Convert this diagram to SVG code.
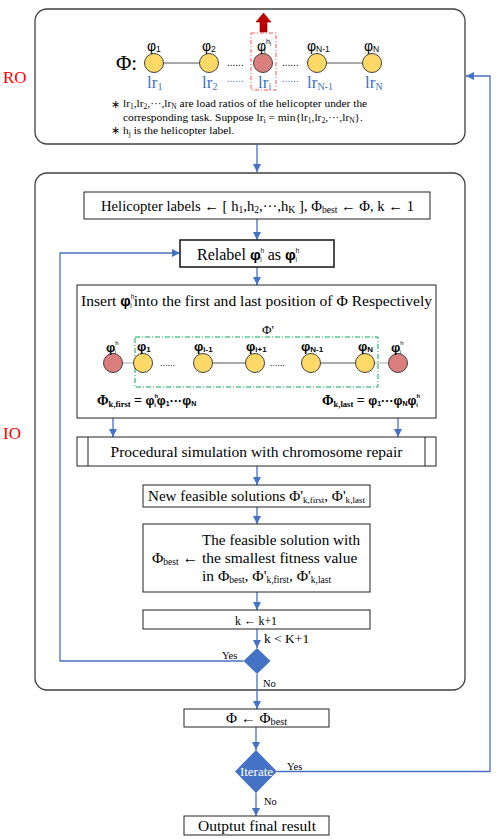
<svg xmlns="http://www.w3.org/2000/svg" width="496" height="839" viewBox="0 0 496 839">
<defs>
<marker id="arr" markerUnits="userSpaceOnUse" markerWidth="9" markerHeight="8" refX="8" refY="4" orient="auto">
<path d="M0,0 L8,4 L0,8 z" fill="#4472C4"/>
</marker>
<style>
.frame{fill:#fff;stroke:#404040;stroke-width:1.3}
.box{fill:#fff;stroke:#222;stroke-width:1}
.t{font-family:"Liberation Serif","Times New Roman",serif;fill:#000}
.s{font-family:"Liberation Sans",Arial,sans-serif;fill:#000}
.cm{stroke:#4472C4;stroke-width:1.3;fill:none;marker-end:url(#arr)}
.y{fill:#FFD966;stroke:#404040;stroke-width:1}
.r{fill:#DD7E7E;stroke:#404040;stroke-width:1}
.ln{stroke:#555;stroke-width:1}
</style>
</defs>
<rect width="496" height="839" fill="#fff"/>

<text class="t" x="3" y="83" font-size="17" style="fill:#FF0000">RO</text>
<text class="t" x="3" y="439" font-size="17" style="fill:#FF0000">IO</text>

<g id="ro">
<rect class="frame" x="35" y="9" width="430" height="135" rx="12"/>
<polygon points="260,32 267,32 267,22 271,22 263.5,13 256,22 260,22" fill="#C00000" stroke="#7a0000" stroke-width="0.6"/>
<rect x="251" y="33" width="25" height="57" fill="none" stroke="#FF5555" stroke-width="1" stroke-dasharray="4,2,1,2"/>
<text class="t" x="116" y="70" font-size="21">Φ:</text>
<line class="ln" x1="163.5" y1="63" x2="199.5" y2="63"/>
<line class="ln" x1="326.5" y1="63" x2="362.5" y2="63"/>
<circle class="y" cx="154" cy="63" r="9.5"/>
<circle class="y" cx="209" cy="63" r="9.5"/>
<circle class="r" cx="263" cy="63" r="9.5"/>
<circle class="y" cx="317" cy="63" r="9.5"/>
<circle class="y" cx="372" cy="63" r="9.5"/>
<text class="s" x="227" y="66" font-size="10">......</text>
<text class="s" x="282" y="66" font-size="10">......</text>
<text class="s" x="147" y="51" font-size="14">φ<tspan font-size="8.5" dy="1">1</tspan></text>
<text class="s" x="202" y="51" font-size="14">φ<tspan font-size="8.5" dy="1">2</tspan></text>
<text class="s" x="257" y="51" font-size="14">φ<tspan font-size="7" dy="-7">h</tspan><tspan font-size="5" dy="1">j</tspan><tspan font-size="7" dx="-7" dy="8">i</tspan></text>
<text class="s" x="307" y="51" font-size="14">φ<tspan font-size="8.5" dy="1">N-1</tspan></text>
<text class="s" x="364" y="51" font-size="14">φ<tspan font-size="8.5" dy="1">N</tspan></text>
<text class="t" x="147" y="88" font-size="17" style="fill:#4472C4">lr<tspan font-size="10" dy="2">1</tspan></text>
<text class="t" x="202" y="88" font-size="17" style="fill:#4472C4">lr<tspan font-size="10" dy="2">2</tspan></text>
<text class="t" x="258" y="88" font-size="17" style="fill:#4472C4">lr<tspan font-size="10" dy="2">i</tspan></text>
<text class="t" x="307" y="88" font-size="17" style="fill:#4472C4">lr<tspan font-size="10" dy="2">N-1</tspan></text>
<text class="t" x="365" y="88" font-size="17" style="fill:#4472C4">lr<tspan font-size="10" dy="2">N</tspan></text>
<text class="s" x="227" y="82" font-size="10" style="fill:#4472C4">......</text>
<text class="s" x="282" y="82" font-size="10" style="fill:#4472C4">......</text>
<text class="t" x="111" y="108" font-size="11">∗</text>
<text class="t" x="123" y="107" font-size="11.4">lr<tspan font-size="7.5" dy="2">1</tspan><tspan dy="-2">,lr</tspan><tspan font-size="7.5" dy="2">2</tspan><tspan dy="-2">,···,lr</tspan><tspan font-size="7.5" dy="2">N</tspan><tspan dy="-2"> are load ratios of the helicopter under the</tspan></text>
<text class="t" x="123" y="121" font-size="11.4">corresponding task. Suppose lr<tspan font-size="7.5" dy="2">i</tspan><tspan dy="-2"> = min{lr</tspan><tspan font-size="7.5" dy="2">1</tspan><tspan dy="-2">,lr</tspan><tspan font-size="7.5" dy="2">2</tspan><tspan dy="-2">,···,lr</tspan><tspan font-size="7.5" dy="2">N</tspan><tspan dy="-2">}.</tspan></text>
<text class="t" x="111" y="134" font-size="11">∗</text>
<text class="t" x="123" y="134" font-size="11.4">h<tspan font-size="7.5" dy="2">j</tspan><tspan dy="-2"> is the helicopter label.</tspan></text>
</g>

<g id="io">
<rect class="frame" x="35" y="173" width="430" height="517" rx="12"/>
</g>

<g id="connectors">
<line class="cm" x1="257" y1="144" x2="257" y2="172"/>
<line class="cm" x1="257" y1="219" x2="257" y2="240"/>
<line class="cm" x1="257" y1="267" x2="257" y2="285"/>
<line class="cm" x1="113" y1="322" x2="113" y2="335"/>
<line class="cm" x1="398" y1="322" x2="398" y2="335"/>
<line class="cm" x1="113" y1="380" x2="113" y2="391"/>
<line class="cm" x1="398" y1="380" x2="398" y2="391"/>
<line class="cm" x1="113" y1="409" x2="113" y2="437"/>
<line class="cm" x1="398" y1="409" x2="398" y2="437"/>
<line class="cm" x1="257" y1="466" x2="257" y2="485"/>
<line class="cm" x1="257" y1="507" x2="257" y2="524"/>
<line class="cm" x1="257" y1="592" x2="257" y2="610"/>
<line class="cm" x1="257" y1="629" x2="257" y2="648"/>
<polyline class="cm" points="243.5,661 60,661 60,253 180,253"/>
<line class="cm" x1="257" y1="674" x2="257" y2="709"/>
<line class="cm" x1="256" y1="727" x2="256" y2="750"/>
<polyline class="cm" points="277,771.5 490,771.5 490,76 466,76"/>
<line class="cm" x1="256" y1="793" x2="256" y2="816"/>
<text class="t" x="264" y="643" font-size="13.5">k &lt; K+1</text>
<text class="t" x="222" y="659" font-size="10.5">Yes</text>
<text class="t" x="263" y="687" font-size="10.5">No</text>
<text class="t" x="287" y="770" font-size="10.5">Yes</text>
<text class="t" x="264" y="805" font-size="10.5">No</text>
</g>

<g id="init">
<rect class="box" x="84" y="192" width="346" height="27"/>
<text class="t" x="101" y="211" font-size="14.5" textLength="313" lengthAdjust="spacingAndGlyphs">Helicopter labels ← [ h<tspan font-size="9.5" dy="2">1</tspan><tspan dy="-2">,h</tspan><tspan font-size="9.5" dy="2">2</tspan><tspan dy="-2">,···,h</tspan><tspan font-size="9.5" dy="2">K</tspan><tspan dy="-2"> ], Φ</tspan><tspan font-size="9.5" dy="2">best</tspan><tspan dy="-2"> ← Φ, k ← 1</tspan></text>
</g>

<g id="relabel">
<rect class="box" x="180" y="240" width="154" height="27" style="stroke-width:1.6"/>
<text class="t" x="197" y="260" font-size="16">Relabel <tspan class="s" font-weight="bold" font-size="15">φ</tspan><tspan class="s" font-size="6.5" dy="-7">h</tspan><tspan class="s" font-size="6.5" dx="-4" dy="9">i</tspan><tspan dy="-2" dx="2"> as </tspan><tspan class="s" font-weight="bold" font-size="15">φ</tspan><tspan class="s" font-size="6.5" dy="-7">h</tspan><tspan class="s" font-size="6.5" dx="-4" dy="9">i</tspan></text>
</g>

<g id="insert">
<rect class="box" x="77" y="285" width="359" height="133"/>
<text class="t" x="81" y="306" font-size="15.5" textLength="351" lengthAdjust="spacingAndGlyphs">Insert <tspan class="s" font-weight="bold" font-size="14.5">φ</tspan><tspan class="s" font-size="6.5" dy="-7">h</tspan><tspan class="s" font-size="6.5" dx="-4" dy="9">i</tspan><tspan dy="-2" dx="2">into the first and last position of Φ Respectively</tspan></text>
<rect x="135" y="337" width="243" height="50" fill="none" stroke="#00B050" stroke-width="1" stroke-dasharray="5,2,1,2"/>
<text class="t" x="262" y="334" font-size="13">Φ'</text>
<line class="ln" x1="122.5" y1="363" x2="133.5" y2="363" stroke-dasharray="1,1"/>
<line class="ln" x1="374.5" y1="363" x2="388.5" y2="363" stroke-dasharray="1,1"/>
<line class="ln" x1="212.5" y1="363" x2="245.5" y2="363"/>
<line class="ln" x1="320.5" y1="363" x2="355.5" y2="363"/>
<circle class="r" cx="113" cy="363" r="9.5"/>
<circle class="y" cx="143" cy="363" r="9.5"/>
<circle class="y" cx="203" cy="363" r="9.5"/>
<circle class="y" cx="255" cy="363" r="9.5"/>
<circle class="y" cx="311" cy="363" r="9.5"/>
<circle class="y" cx="365" cy="363" r="9.5"/>
<circle class="r" cx="398" cy="363" r="9.5"/>
<text class="s" x="160" y="366" font-size="9">......</text>
<text class="s" x="270" y="366" font-size="9">......</text>
<g class="s" font-weight="bold" font-size="13">
<text x="106" y="352">φ<tspan font-size="6" font-weight="normal" dy="-7">h</tspan><tspan font-size="6" font-weight="normal" dx="-4" dy="9">i</tspan></text>
<text x="391" y="352">φ<tspan font-size="6" font-weight="normal" dy="-7">h</tspan><tspan font-size="6" font-weight="normal" dx="-4" dy="9">i</tspan></text>
<text x="137" y="351">φ<tspan font-size="8" dy="1">1</tspan></text>
<text x="194" y="351">φ<tspan font-size="8" dy="1">i-1</tspan></text>
<text x="246" y="351">φ<tspan font-size="8" dy="1">i+1</tspan></text>
<text x="301" y="351">φ<tspan font-size="8" dy="1">N-1</tspan></text>
<text x="358" y="351">φ<tspan font-size="8" dy="1">N</tspan></text>
</g>
<text class="t" x="97" y="405" font-size="14" font-weight="bold">Φ<tspan font-size="8.5" dy="2">k,first</tspan><tspan dy="-2"> = </tspan><tspan class="s" font-size="12.5">φ</tspan><tspan class="s" font-size="6" dy="-7">h</tspan><tspan class="s" font-size="6" dx="-4" dy="9">i</tspan><tspan class="s" font-size="12.5" dy="-2" dx="1">φ</tspan><tspan class="s" font-size="7" dy="1">1</tspan><tspan class="s" font-size="12.5" dy="-1">···φ</tspan><tspan class="s" font-size="7" dy="1">N</tspan></text>
<text class="t" x="322" y="405" font-size="14" font-weight="bold">Φ<tspan font-size="8.5" dy="2">k,last</tspan><tspan dy="-2"> = </tspan><tspan class="s" font-size="12.5">φ</tspan><tspan class="s" font-size="7" dy="1">1</tspan><tspan class="s" font-size="12.5" dy="-1">···φ</tspan><tspan class="s" font-size="7" dy="1">N</tspan><tspan class="s" font-size="12.5" dy="-1">φ</tspan><tspan class="s" font-size="6" dy="-7">h</tspan><tspan class="s" font-size="6" dx="-4" dy="9">i</tspan></text>
</g>

<g id="procedural">
<rect class="box" x="77" y="437" width="359" height="29"/>
<line x1="88" y1="437" x2="88" y2="466" stroke="#222" stroke-width="1"/>
<line x1="425" y1="437" x2="425" y2="466" stroke="#222" stroke-width="1"/>
<text class="t" x="256.5" y="457" font-size="15.5" text-anchor="middle">Procedural simulation with chromosome repair</text>
</g>

<g id="newfeasible">
<rect class="box" x="143" y="485" width="227" height="22"/>
<text class="t" x="148" y="501" font-size="15" textLength="217" lengthAdjust="spacingAndGlyphs">New feasible solutions Φ'<tspan font-size="9" dy="2">k,first</tspan><tspan dy="-2">, Φ'</tspan><tspan font-size="9" dy="2">k,last</tspan></text>
</g>

<g id="best">
<rect class="box" x="143" y="524" width="227" height="68"/>
<text class="t" x="202" y="545" font-size="15.5" textLength="158" lengthAdjust="spacingAndGlyphs">The feasible solution with</text>
<text class="t" x="152" y="563" font-size="15.5">Φ<tspan font-size="9.5" dy="2">best</tspan><tspan dy="-2"> ← the smallest fitness value</tspan></text>
<text class="t" x="202" y="581" font-size="15.5">in Φ<tspan font-size="9.5" dy="2">best</tspan><tspan dy="-2">, Φ'</tspan><tspan font-size="9.5" dy="2">k,first</tspan><tspan dy="-2">, Φ'</tspan><tspan font-size="9.5" dy="2">k,last</tspan></text>
</g>

<g id="kinc">
<rect class="box" x="143" y="610" width="227" height="19"/>
<text class="t" x="235" y="624.5" font-size="13.5" textLength="42" lengthAdjust="spacingAndGlyphs">k ← k+1</text>
</g>

<g id="cond">
<polygon points="257,648 270.5,661 257,674 243.5,661" fill="#4472C4"/>
</g>

<g id="assign">
<rect class="box" x="184" y="709" width="145" height="18"/>
<text class="t" x="226" y="723" font-size="14" textLength="61" lengthAdjust="spacingAndGlyphs">Φ ← Φ<tspan font-size="9.5" dy="2">best</tspan></text>
</g>

<g id="iterate">
<polygon points="256,750 277,771.5 256,793 235,771.5" fill="#4472C4"/>
<text class="t" x="256.5" y="776" font-size="13" text-anchor="middle" style="fill:#fff">Iterate</text>
</g>

<g id="output">
<rect class="box" x="184" y="816" width="145" height="19"/>
<text class="t" x="257" y="831" font-size="15.5" text-anchor="middle">Outptut final result</text>
</g>
</svg>
